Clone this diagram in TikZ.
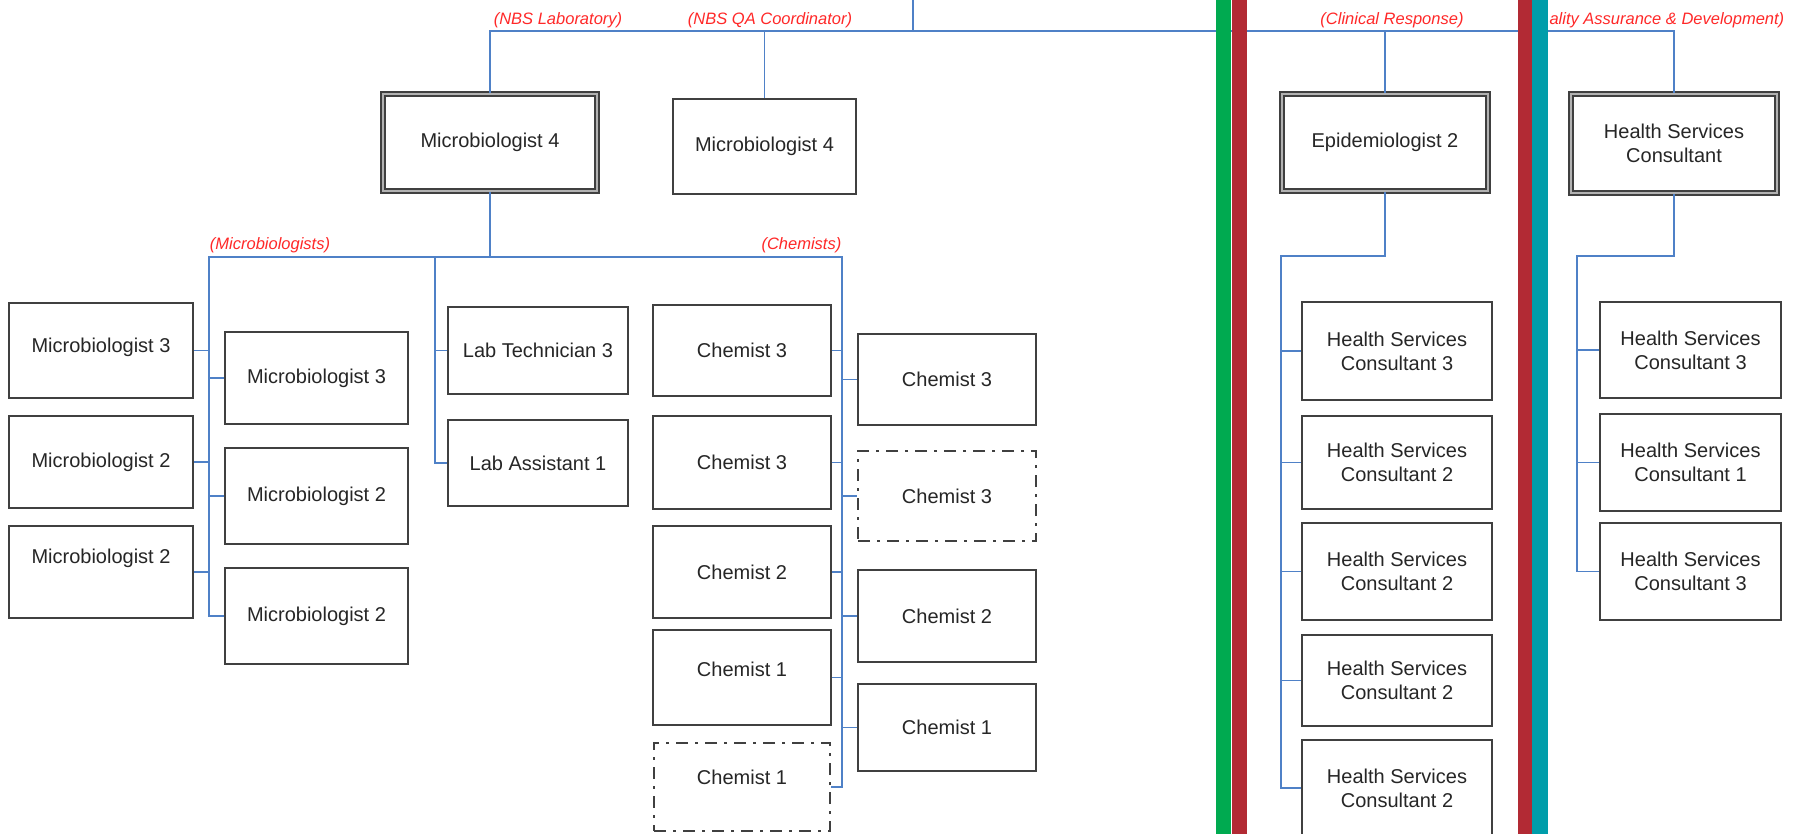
\documentclass[tikz,border=0pt]{standalone}
\usepackage{fontspec}
\setmainfont{Liberation Sans}
\usepackage{xcolor}
\usepackage{tikz}
\usetikzlibrary{positioning}

\definecolor{linkblue}{RGB}{79,129,199}
\definecolor{boxgray}{RGB}{64,64,64}
\definecolor{unitred}{RGB}{255,40,40}
\definecolor{bargreen}{RGB}{0,170,80}
\definecolor{barred}{RGB}{178,42,52}
\definecolor{barteal}{RGB}{0,157,170}

\begin{document}
\begin{tikzpicture}[x=1pt,y=-1pt,line width=1.5pt,
    post/.style={draw=boxgray,line width=1.8pt,fill=white,inner sep=0pt,align=center,
      text=black!85,font=\fontsize{20}{24}\selectfont},
    head/.style={post,double=black!30,double distance=2pt},
    vacant/.style={post,line width=2pt,dash pattern=on 12pt off 7pt on 3pt off 7pt},
    dims/.style 2 args={minimum width=#1pt,minimum height=#2pt},
    lift/.style={text height=14.5pt,text depth=#1},
    unit/.style={text=unitred,inner sep=0pt,font=\fontsize{16.5}{20}\selectfont\itshape},
    link/.style={draw=linkblue,line width=1.5pt}]
    \useasboundingbox (0,0) rectangle (1806,834);
    \clip (0,0) rectangle (1806,834);

    \node[head,dims={214}{97}] (mbhead) at (490,142.5) {Microbiologist 4};
    \node[post,dims={183}{95}] (mbqa) at (764.5,146.5) {Microbiologist 4};
    \node[head,dims={206}{97}] (epihead) at (1385,142.5) {Epidemiologist 2};
    \node[head,dims={206}{99}] (hschead) at (1674,143.5) {Health Services\\Consultant};

    \node[post,dims={184}{95},lift=10pt] (mbl1) at (101,350.5) {Microbiologist 3};
    \node[post,dims={184}{92}] (mbl2) at (101,462) {Microbiologist 2};
    \node[post,dims={184}{92},lift=32pt] (mbl3) at (101,572) {Microbiologist 2};
    \node[post,dims={183}{92}] (mbr1) at (316.5,378) {Microbiologist 3};
    \node[post,dims={183}{96}] (mbr2) at (316.5,496) {Microbiologist 2};
    \node[post,dims={183}{96}] (mbr3) at (316.5,616) {Microbiologist 2};
    \node[post,dims={180}{87}] (labtech) at (538,350.5) {Lab Technician 3};
    \node[post,dims={180}{86}] (labasst) at (538,463) {Lab Assistant 1};

    \node[post,dims={178}{91}] (chl1) at (742,350.5) {Chemist 3};
    \node[post,dims={178}{93}] (chl2) at (742,462.5) {Chemist 3};
    \node[post,dims={178}{92}] (chl3) at (742,572) {Chemist 2};
    \node[post,dims={178}{95},lift=16pt] (chl4) at (742,677.5) {Chemist 1};
    \node[vacant,dims={176}{88},lift=20pt] (chl5) at (742,787) {Chemist 1};
    \node[post,dims={178}{91}] (chr1) at (947,379.5) {Chemist 3};
    \node[vacant,dims={178}{90}] (chr2) at (947,496) {Chemist 3};
    \node[post,dims={178}{92}] (chr3) at (947,616) {Chemist 2};
    \node[post,dims={178}{87}] (chr4) at (947,727.5) {Chemist 1};

    \node[post,dims={190}{98}] (epc1) at (1397,351) {Health Services\\Consultant 3};
    \node[post,dims={190}{93}] (epc2) at (1397,462.5) {Health Services\\Consultant 2};
    \node[post,dims={190}{97}] (epc3) at (1397,571.5) {Health Services\\Consultant 2};
    \node[post,dims={190}{91}] (epc4) at (1397,680.5) {Health Services\\Consultant 2};
    \node[post,dims={190}{96}] (epc5) at (1397,788) {Health Services\\Consultant 2};
    \node[post,dims={181}{96}] (hsc1) at (1690.5,350) {Health Services\\Consultant 3};
    \node[post,dims={181}{97}] (hsc2) at (1690.5,462.5) {Health Services\\Consultant 1};
    \node[post,dims={181}{97}] (hsc3) at (1690.5,571.5) {Health Services\\Consultant 3};

    \coordinate (root) at (913,0);
    \coordinate (spine) at (913,31);
    \coordinate (mbus) at (209,257);
    \coordinate (labbus) at (435,257);
    \coordinate (chbus) at (842,257);
    \coordinate (epbus) at (1281,256);
    \coordinate (hsbus) at (1577,256);

    \draw[link] (root) -- (spine);
    \draw[link] (mbhead.north) |- (spine) -| (hschead.north);
    \draw[link] (mbqa.north) -- (mbqa.north |- spine);
    \draw[link] (epihead.north) -- (epihead.north |- spine);

    \draw[link] (mbhead.south) -- (mbhead.south |- mbus);
    \draw[link] (mbr3.west) -| (mbus) -- (chbus) |- (chl5.east);
    \draw[link] (labbus) |- (labasst.west);
    \draw[link] (labtech.west) -- (labtech.west -| labbus);
    \foreach \n in {mbl1,mbl2,mbl3}
      \draw[link] (\n.east) -- (\n.east -| mbus);
    \foreach \n in {mbr1,mbr2}
      \draw[link] (\n.west) -- (\n.west -| mbus);
    \foreach \n in {chl1,chl2,chl3,chl4}
      \draw[link] (\n.east) -- (\n.east -| chbus);
    \foreach \n in {chr1,chr2,chr3,chr4}
      \draw[link] (\n.west) -- (\n.west -| chbus);

    \draw[link] (epihead.south) |- (epbus) |- (epc5.west);
    \foreach \n in {epc1,epc2,epc3,epc4}
      \draw[link] (\n.west) -- (\n.west -| epbus);
    \draw[link] (hschead.south) |- (hsbus) |- (hsc3.west);
    \foreach \n in {hsc1,hsc2}
      \draw[link] (\n.west) -- (\n.west -| hsbus);

    \node[unit,anchor=base] (unbs) at (558,25) {(NBS Laboratory)};
    \node[unit,anchor=base] (unbsqa) at (770,25) {(NBS QA Coordinator)};
    \node[unit,anchor=base] (uclin) at (1392,25) {(Clinical Response)};
    \node[unit,anchor=base east] (uqad) at (1785,25) {ality Assurance \& Development)};
    \node[unit,anchor=base] (umicro) at (270,250) {(Microbiologists)};
    \node[unit,anchor=base east] (uchem) at (842,250) {(Chemists)};

    \fill[bargreen] (1215.5,0) rectangle (1231,834);
    \fill[barred] (1232,0) rectangle (1247,834);
    \fill[barred] (1518,0) rectangle (1532,834);
    \fill[barteal] (1532,0) rectangle (1548,834);
\end{tikzpicture}
\end{document}
